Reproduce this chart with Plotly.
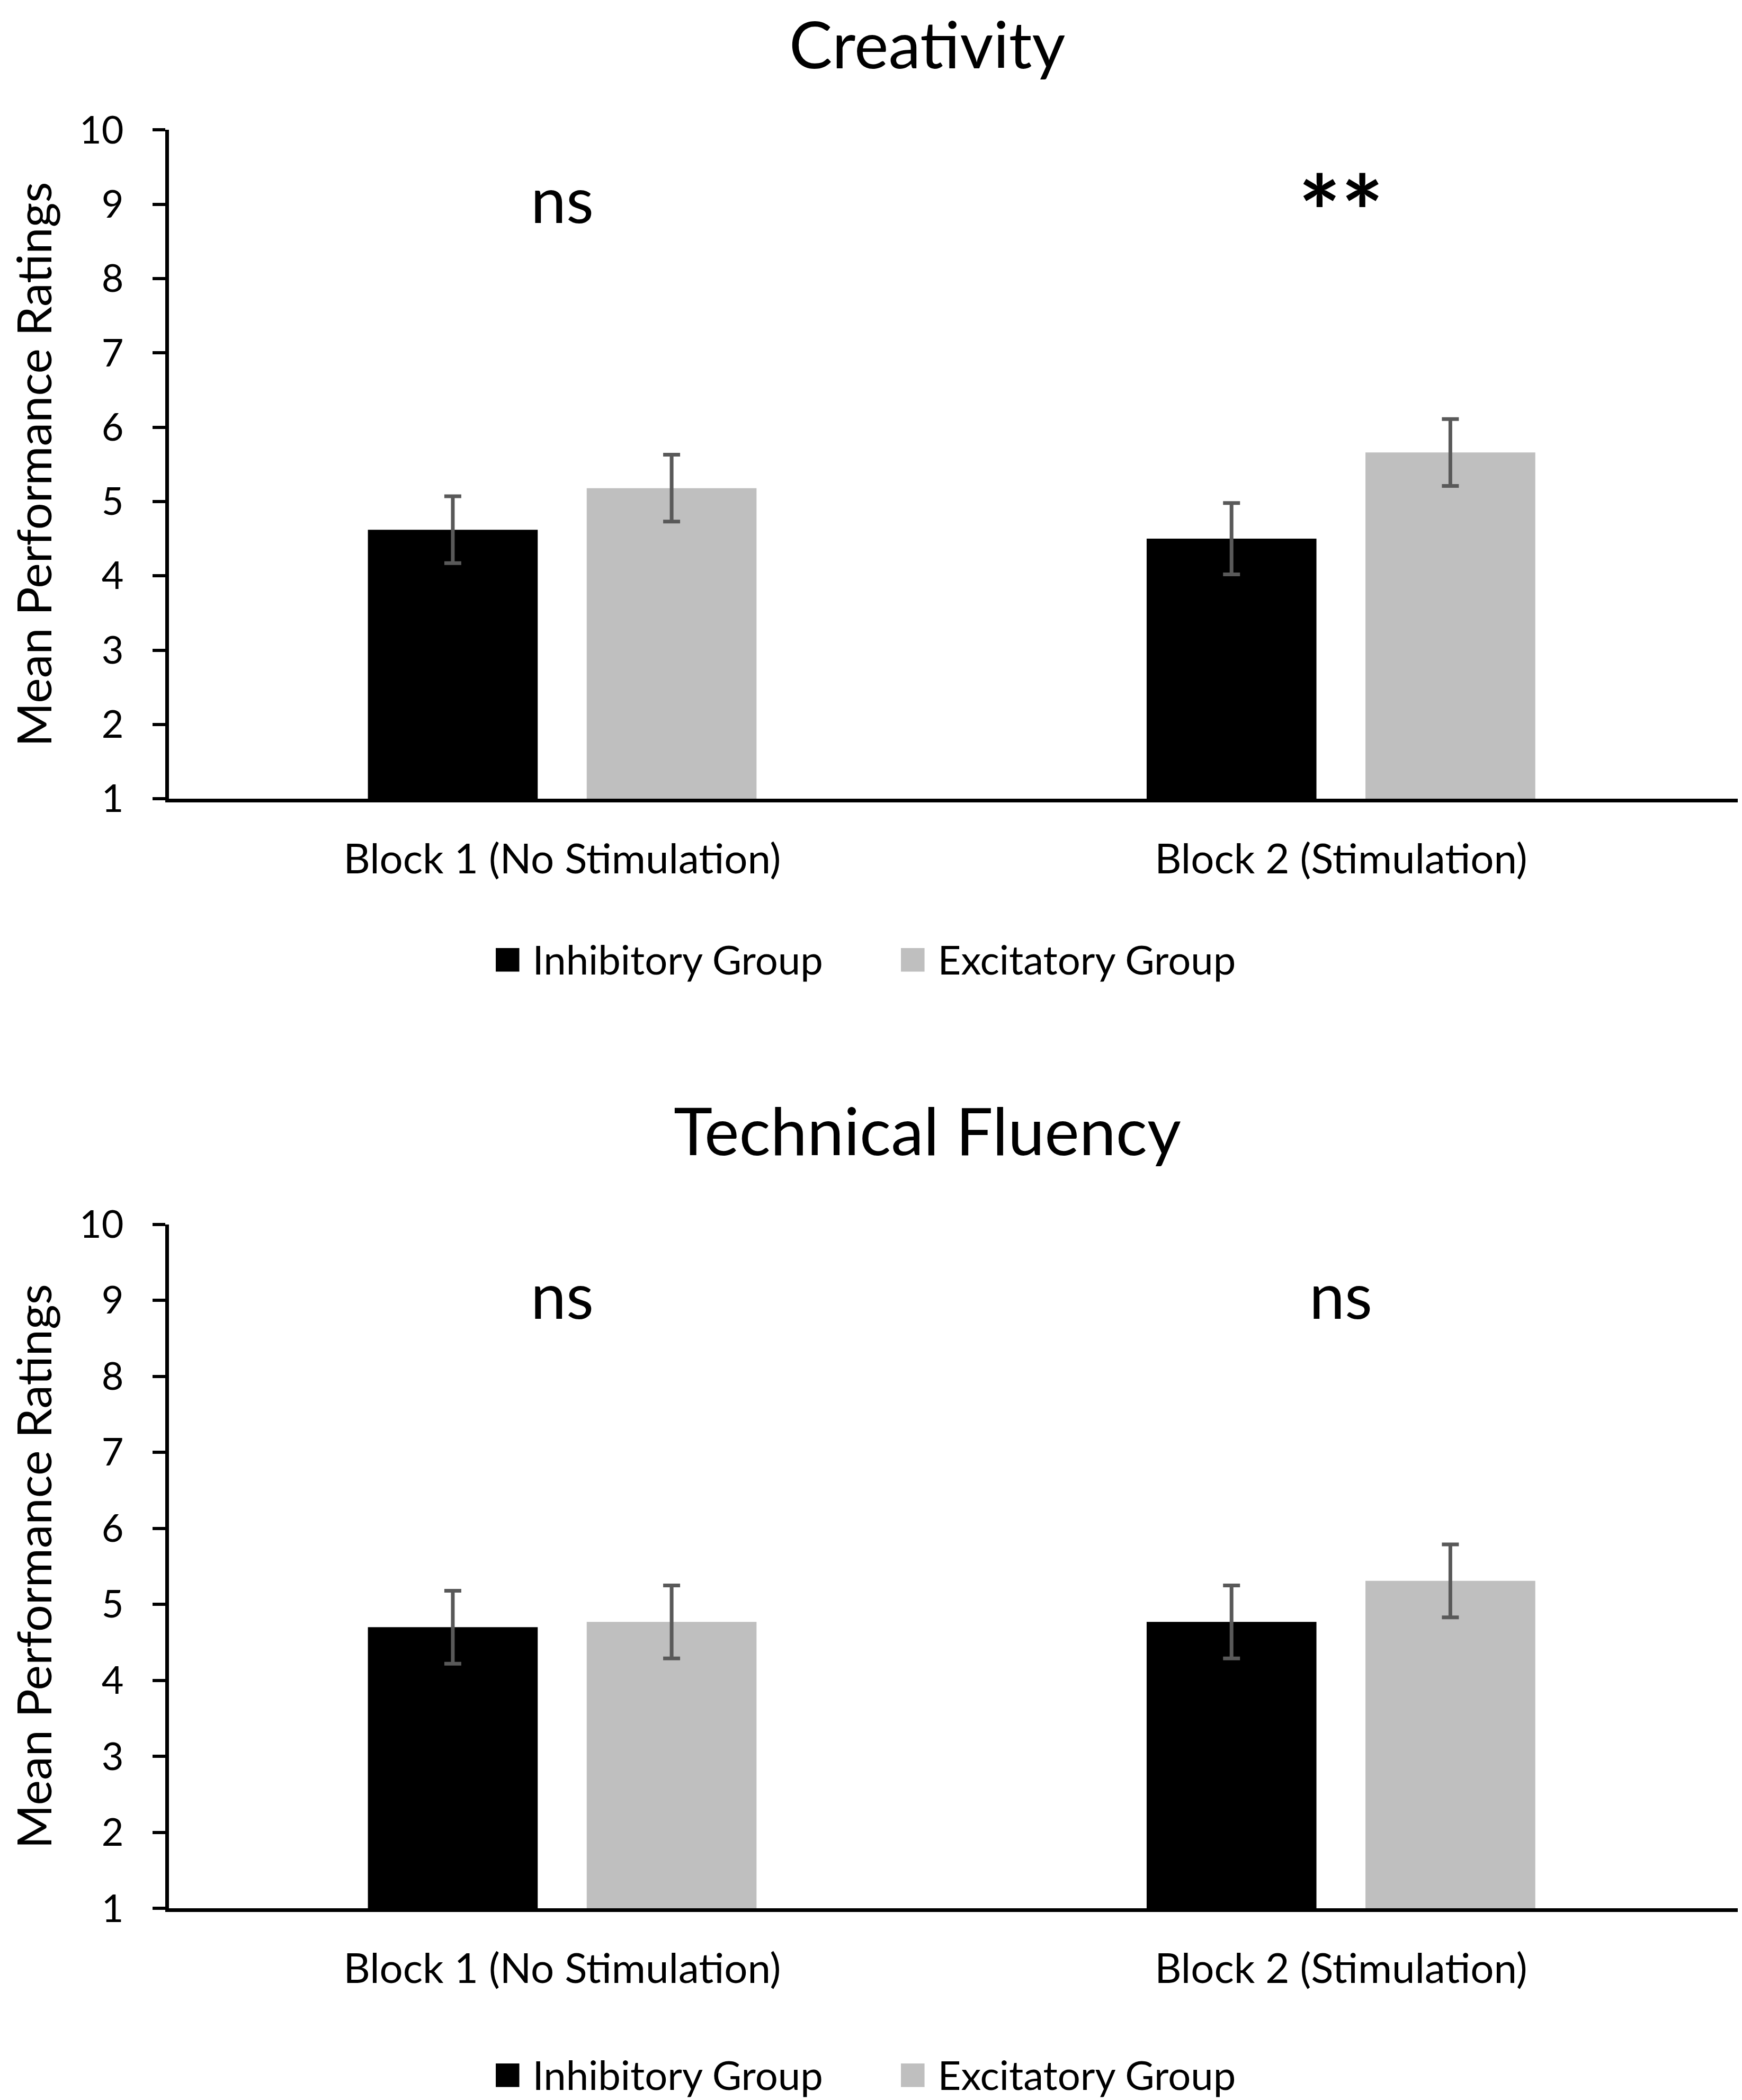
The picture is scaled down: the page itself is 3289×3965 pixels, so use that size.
import plotly.graph_objects as go

# categories and series
blocks = ["Block 1 (No Stimulation)", "Block 2 (Stimulation)"]
groups = ["Inhibitory Group", "Excitatory Group"]
group_colors = ["#000000", "#bfbfbf"]

# Creativity panel
creativity_means = {"Inhibitory Group": [4.62, 4.50], "Excitatory Group": [5.18, 5.66]}
creativity_err = {"Inhibitory Group": [0.45, 0.48], "Excitatory Group": [0.45, 0.45]}
creativity_sig = ["ns", "**"]

# Technical fluency panel
fluency_means = {"Inhibitory Group": [4.70, 4.77], "Excitatory Group": [4.77, 5.31]}
fluency_err = {"Inhibitory Group": [0.48, 0.48], "Excitatory Group": [0.48, 0.48]}
fluency_sig = ["ns", "ns"]

sig_y = 9.08
FONT = "Lato"

fig = go.Figure()

panels = [
    ("x", "y", "legend", creativity_means, creativity_err),
    ("x2", "y2", "legend2", fluency_means, fluency_err),
]
for xa, ya, leg, means, errs in panels:
    for g, c in zip(groups, group_colors):
        fig.add_trace(go.Bar(
            x=blocks, y=means[g], name=g, showlegend=False,
            marker=dict(color=c, line=dict(width=0)),
            error_y=dict(type="data", array=errs[g], visible=True,
                         color="#595959", thickness=7, width=16),
            xaxis=xa, yaxis=ya,
        ))
        # legend entry: coloured square drawn in the label, icon left empty
        fig.add_trace(go.Scatter(
            x=[None], y=[None], mode="markers", xaxis=xa, yaxis=ya, legend=leg,
            marker=dict(color="rgba(0,0,0,0)", size=1),
            name=f'<span style="color:{c};font-size:92px">■</span> {g}',
        ))

# significance labels
for xa, ya, sigs in [("x", "y", creativity_sig), ("x2", "y2", fluency_sig)]:
    for b, s in zip(blocks, sigs):
        star = s != "ns"
        fig.add_annotation(x=b, y=sig_y, xref=xa, yref=ya,
                           text=f"<b>{s}</b>" if star else s, showarrow=False,
                           font=dict(family=FONT, size=190 if star else 120, color="black"),
                           yanchor="middle", yshift=-22 if star else 0)

# panel titles
fig.add_annotation(x=0.482, y=1.0, xref="paper", yref="paper", text="Creativity",
                   showarrow=False, yanchor="top", borderpad=0,
                   font=dict(family=FONT, size=122, color="black"))
fig.add_annotation(x=0.482, y=0.463, xref="paper", yref="paper", text="Technical Fluency",
                   showarrow=False, yanchor="middle",
                   font=dict(family=FONT, size=124, color="black"))

yax = dict(range=[1, 10], dtick=1, showgrid=False, zeroline=False,
           showline=True, linecolor="black", linewidth=7,
           ticks="outside", ticklen=24, tickwidth=6, tickcolor="black",
           ticklabelstandoff=40,
           tickfont=dict(family=FONT, size=72, color="black"),
           title=dict(text="Mean Performance Ratings", standoff=25,
                      font=dict(family=FONT, size=90, color="black")),
           automargin=False)
xax = dict(range=[-0.505, 1.515], showgrid=False, zeroline=False,
           showline=True, linecolor="black", linewidth=7,
           ticks="", tickfont=dict(family=FONT, size=78, color="black"),
           ticklabelstandoff=40, automargin=False)

legend_style = dict(orientation="h", xanchor="center", yanchor="middle",
                    font=dict(family=FONT, size=76, color="black"),
                    bgcolor="rgba(0,0,0,0)", itemwidth=30,
                    entrywidth=720, entrywidthmode="pixels")

fig.update_layout(
    width=3289, height=3965,
    paper_bgcolor="white", plot_bgcolor="white",
    margin=dict(l=311, r=8, t=0, b=0),
    barmode="group", bargap=0.438, bargroupgap=0.224,
    xaxis=dict(domain=[0, 1], anchor="y", **xax),
    yaxis=dict(domain=[0.621, 0.940], anchor="x", **yax),
    xaxis2=dict(domain=[0, 1], anchor="y2", **xax),
    yaxis2=dict(domain=[0.0916, 0.418], anchor="x2", **yax),
    legend=dict(x=0.45, y=0.5445, **legend_style),
    legend2=dict(x=0.45, y=0.0124, **legend_style),
)

fig.write_html("out.html")
